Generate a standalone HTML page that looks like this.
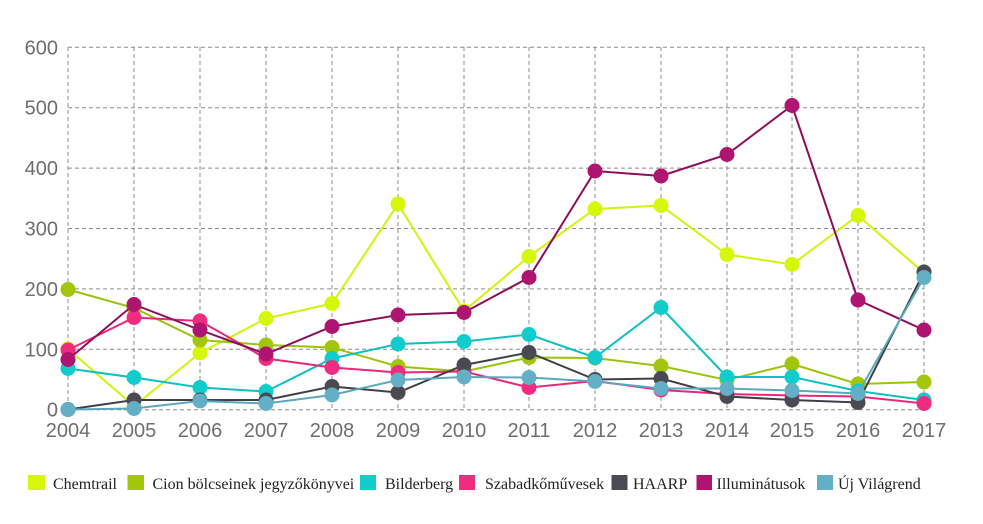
<!DOCTYPE html>
<html><head><meta charset="utf-8"><style>
html,body{margin:0;padding:0;background:#fff;}
svg{display:block;}
</style></head><body>
<svg width="983" height="524" viewBox="0 0 983 524" xmlns="http://www.w3.org/2000/svg">
<rect width="983" height="524" fill="#fff"/>
<g stroke="#8c8c8c" stroke-width="1" stroke-dasharray="4,3" fill="none">
<line x1="68" y1="47.3" x2="924" y2="47.3"/>
<line x1="68" y1="107.7" x2="924" y2="107.7"/>
<line x1="68" y1="168.1" x2="924" y2="168.1"/>
<line x1="68" y1="228.5" x2="924" y2="228.5"/>
<line x1="68" y1="288.9" x2="924" y2="288.9"/>
<line x1="68" y1="349.3" x2="924" y2="349.3"/>
<line x1="68" y1="409.7" x2="924" y2="409.7"/>
<line x1="68" y1="47" x2="68" y2="410"/>
<line x1="134" y1="47" x2="134" y2="410"/>
<line x1="200" y1="47" x2="200" y2="410"/>
<line x1="266" y1="47" x2="266" y2="410"/>
<line x1="332" y1="47" x2="332" y2="410"/>
<line x1="398" y1="47" x2="398" y2="410"/>
<line x1="464" y1="47" x2="464" y2="410"/>
<line x1="529" y1="47" x2="529" y2="410"/>
<line x1="595" y1="47" x2="595" y2="410"/>
<line x1="661" y1="47" x2="661" y2="410"/>
<line x1="727" y1="47" x2="727" y2="410"/>
<line x1="792" y1="47" x2="792" y2="410"/>
<line x1="858" y1="47" x2="858" y2="410"/>
<line x1="924" y1="47" x2="924" y2="410"/>
</g>
<g font-family="Liberation Sans, Arial, sans-serif" font-size="20" fill="#6e6e6e">
<g text-anchor="end">
<text x="58" y="54.3">600</text>
<text x="58" y="114.7">500</text>
<text x="58" y="175.1">400</text>
<text x="58" y="235.5">300</text>
<text x="58" y="295.9">200</text>
<text x="58" y="356.3">100</text>
<text x="58" y="416.7">0</text>
</g>
<g text-anchor="middle">
<text x="68" y="437">2004</text>
<text x="134" y="437">2005</text>
<text x="200" y="437">2006</text>
<text x="266" y="437">2007</text>
<text x="332" y="437">2008</text>
<text x="398" y="437">2009</text>
<text x="464" y="437">2010</text>
<text x="529" y="437">2011</text>
<text x="595" y="437">2012</text>
<text x="661" y="437">2013</text>
<text x="727" y="437">2014</text>
<text x="792" y="437">2015</text>
<text x="858" y="437">2016</text>
<text x="924" y="437">2017</text>
</g>
</g>

<!-- Chemtrail -->
<g>
<polyline fill="none" stroke="#d2f20c" stroke-width="2" points="68,349 134,406 200,353 266,318.5 332,303.5 398,204 464,311 529,256.5 595,209 661,205.5 727,254.5 792,264.5 858,215.5 924,273"/>
<g fill="#d6f70a">
<circle cx="68" cy="349" r="7.5"/><circle cx="134" cy="406" r="7.5"/><circle cx="200" cy="353" r="7.5"/><circle cx="266" cy="318.5" r="7.5"/><circle cx="332" cy="303.5" r="7.5"/><circle cx="398" cy="204" r="7.5"/><circle cx="464" cy="311" r="7.5"/><circle cx="529" cy="256.5" r="7.5"/><circle cx="595" cy="209" r="7.5"/><circle cx="661" cy="205.5" r="7.5"/><circle cx="727" cy="254.5" r="7.5"/><circle cx="792" cy="264.5" r="7.5"/><circle cx="858" cy="215.5" r="7.5"/><circle cx="924" cy="273" r="7.5"/>
</g></g>

<!-- Cion -->
<g>
<polyline fill="none" stroke="#9cc20c" stroke-width="2" points="68,289.5 134,308 200,340 266,345 332,347.5 398,366.5 464,371.5 529,357.5 595,358 661,366 727,380 792,364 858,384 924,382"/>
<g fill="#a1c60c">
<circle cx="68" cy="289.5" r="7.5"/><circle cx="134" cy="308" r="7.5"/><circle cx="200" cy="340" r="7.5"/><circle cx="266" cy="345" r="7.5"/><circle cx="332" cy="347.5" r="7.5"/><circle cx="398" cy="366.5" r="7.5"/><circle cx="464" cy="371.5" r="7.5"/><circle cx="529" cy="357.5" r="7.5"/><circle cx="595" cy="358" r="7.5"/><circle cx="661" cy="366" r="7.5"/><circle cx="727" cy="380" r="7.5"/><circle cx="792" cy="364" r="7.5"/><circle cx="858" cy="384" r="7.5"/><circle cx="924" cy="382" r="7.5"/>
</g></g>

<!-- Bilderberg -->
<g>
<polyline fill="none" stroke="#10bfc2" stroke-width="2" points="68,368.5 134,377.5 200,387.5 266,391.5 332,358.5 398,344 464,341.5 529,334.5 595,357.5 661,307.5 727,377 792,377 858,391 924,400"/>
<g fill="#12cbcc">
<circle cx="68" cy="368.5" r="7.5"/><circle cx="134" cy="377.5" r="7.5"/><circle cx="200" cy="387.5" r="7.5"/><circle cx="266" cy="391.5" r="7.5"/><circle cx="332" cy="358.5" r="7.5"/><circle cx="398" cy="344" r="7.5"/><circle cx="464" cy="341.5" r="7.5"/><circle cx="529" cy="334.5" r="7.5"/><circle cx="595" cy="357.5" r="7.5"/><circle cx="661" cy="307.5" r="7.5"/><circle cx="727" cy="377" r="7.5"/><circle cx="792" cy="377" r="7.5"/><circle cx="858" cy="391" r="7.5"/><circle cx="924" cy="400" r="7.5"/>
</g></g>

<!-- Szabadkőművesek -->
<g>
<polyline fill="none" stroke="#e8287a" stroke-width="2" points="68,350 134,317.5 200,321 266,358.5 332,367.5 398,372.5 464,371.5 529,387.5 595,381 661,390 727,394 792,395.5 858,396.5 924,403.5"/>
<g fill="#f02c80">
<circle cx="68" cy="350" r="7.5"/><circle cx="134" cy="317.5" r="7.5"/><circle cx="200" cy="321" r="7.5"/><circle cx="266" cy="358.5" r="7.5"/><circle cx="332" cy="367.5" r="7.5"/><circle cx="398" cy="372.5" r="7.5"/><circle cx="464" cy="371.5" r="7.5"/><circle cx="529" cy="387.5" r="7.5"/><circle cx="595" cy="381" r="7.5"/><circle cx="661" cy="390" r="7.5"/><circle cx="727" cy="394" r="7.5"/><circle cx="792" cy="395.5" r="7.5"/><circle cx="858" cy="396.5" r="7.5"/><circle cx="924" cy="403.5" r="7.5"/>
</g></g>

<!-- HAARP -->
<g>
<polyline fill="none" stroke="#3f3f47" stroke-width="2" points="68,409.5 134,400 200,400 266,400 332,386.5 398,392.5 464,365 529,352.5 595,379.5 661,378.5 727,396.5 792,400 858,402.5 924,272"/>
<g fill="#4a4a52">
<circle cx="68" cy="409.5" r="7.5"/><circle cx="134" cy="400" r="7.5"/><circle cx="200" cy="400" r="7.5"/><circle cx="266" cy="400" r="7.5"/><circle cx="332" cy="386.5" r="7.5"/><circle cx="398" cy="392.5" r="7.5"/><circle cx="464" cy="365" r="7.5"/><circle cx="529" cy="352.5" r="7.5"/><circle cx="595" cy="379.5" r="7.5"/><circle cx="661" cy="378.5" r="7.5"/><circle cx="727" cy="396.5" r="7.5"/><circle cx="792" cy="400" r="7.5"/><circle cx="858" cy="402.5" r="7.5"/><circle cx="924" cy="272" r="7.5"/>
</g></g>

<!-- Illuminátusok -->
<g>
<polyline fill="none" stroke="#8c0e58" stroke-width="2" points="68,359.5 134,304.5 200,330 266,354 332,326.5 398,315 464,312.5 529,277.5 595,171 661,176 727,154.5 792,105.5 858,300 924,330"/>
<g fill="#ad1570">
<circle cx="68" cy="359.5" r="7.5"/><circle cx="134" cy="304.5" r="7.5"/><circle cx="200" cy="330" r="7.5"/><circle cx="266" cy="354" r="7.5"/><circle cx="332" cy="326.5" r="7.5"/><circle cx="398" cy="315" r="7.5"/><circle cx="464" cy="312.5" r="7.5"/><circle cx="529" cy="277.5" r="7.5"/><circle cx="595" cy="171" r="7.5"/><circle cx="661" cy="176" r="7.5"/><circle cx="727" cy="154.5" r="7.5"/><circle cx="792" cy="105.5" r="7.5"/><circle cx="858" cy="300" r="7.5"/><circle cx="924" cy="330" r="7.5"/>
</g></g>

<!-- Új Világrend -->
<g>
<polyline fill="none" stroke="#5aa8be" stroke-width="2" points="68,409.5 134,408.5 200,401 266,403.5 332,395 398,380 464,377 529,377.5 595,381.5 661,388.5 727,388.5 792,390.5 858,393.5 924,277.5"/>
<g fill="#62afc6">
<circle cx="68" cy="409.5" r="7.5"/><circle cx="134" cy="408.5" r="7.5"/><circle cx="200" cy="401" r="7.5"/><circle cx="266" cy="403.5" r="7.5"/><circle cx="332" cy="395" r="7.5"/><circle cx="398" cy="380" r="7.5"/><circle cx="464" cy="377" r="7.5"/><circle cx="529" cy="377.5" r="7.5"/><circle cx="595" cy="381.5" r="7.5"/><circle cx="661" cy="388.5" r="7.5"/><circle cx="727" cy="388.5" r="7.5"/><circle cx="792" cy="390.5" r="7.5"/><circle cx="858" cy="393.5" r="7.5"/><circle cx="924" cy="277.5" r="7.5"/>
</g></g>

<!-- Legend -->
<g>
<rect x="28" y="475" width="17" height="15" fill="#d6f70a"/>
<rect x="127.5" y="475" width="16.5" height="15" fill="#a1c60c"/>
<rect x="360" y="475" width="16" height="15" fill="#12cbcc"/>
<rect x="459" y="475" width="16" height="15" fill="#f02c80"/>
<rect x="611.5" y="475" width="16" height="15" fill="#4a4a52"/>
<rect x="696.5" y="475" width="15.5" height="15" fill="#ad1570"/>
<rect x="817" y="475" width="16" height="15" fill="#62afc6"/>
</g>
<g font-family="Liberation Serif, Times New Roman, serif" font-size="16" fill="#222">
<text x="53" y="489">Chemtrail</text>
<text x="152.5" y="489">Cion bölcseinek jegyzőkönyvei</text>
<text x="385" y="489">Bilderberg</text>
<text x="485" y="489">Szabadkőművesek</text>
<text x="633" y="489">HAARP</text>
<text x="716.5" y="489">Illuminátusok</text>
<text x="838" y="489">Új Világrend</text>
</g>
</svg>
</body></html>
